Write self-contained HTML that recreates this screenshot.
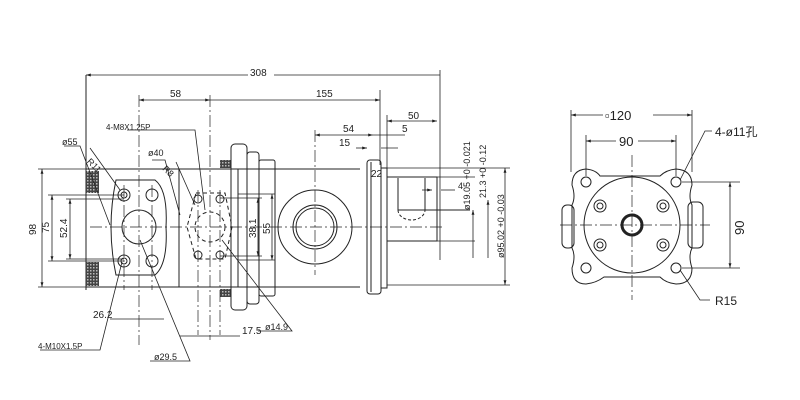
<!DOCTYPE html>
<html><head><meta charset="utf-8"><style>body{margin:0;background:#fff}svg{display:block}text{font-family:"Liberation Sans","Noto Sans CJK SC",sans-serif;fill:#222}</style></head><body>
<svg width="800" height="400" viewBox="0 0 800 400" xmlns="http://www.w3.org/2000/svg">
<defs>
<pattern id="h" width="3" height="3" patternUnits="userSpaceOnUse"><rect width="3" height="3" fill="#444"/><rect width="1.5" height="1.5" fill="#bbb"/></pattern>
<marker id="a" viewBox="0 0 10 10" refX="10" refY="5" markerWidth="6" markerHeight="6" orient="auto-start-reverse"><path d="M0,2L10,5L0,8z" fill="#222"/></marker>
</defs>
<g stroke="#222" stroke-width="1" fill="none">
<!-- left body -->
<line x1="86" y1="169" x2="360" y2="169"/><line x1="86" y1="287" x2="360" y2="287"/>
<line x1="86" y1="75" x2="86" y2="290"/>
<rect x="86" y="171" width="13" height="22" fill="url(#h)" stroke="none"/>
<rect x="86" y="262" width="13" height="24" fill="url(#h)" stroke="none"/>
<path d="M116,180 L155,180 Q168,190 166,227 Q168,264 155,275 L116,275 Q106,227 116,180Z"/>
<circle cx="139" cy="227" r="17"/>
<circle cx="124" cy="195" r="6"/><circle cx="124" cy="195" r="3"/><circle cx="152" cy="195" r="6"/>
<circle cx="124" cy="261" r="6"/><circle cx="124" cy="261" r="3"/><circle cx="152" cy="261" r="6"/>
<line x1="179" y1="169" x2="179" y2="287"/><line x1="238" y1="169" x2="238" y2="287"/>
<path d="M196,193 L225,193 L232,227 L225,259 L196,259 L187,227Z" stroke-dasharray="4,3"/>
<circle cx="210" cy="227" r="15" stroke-dasharray="4,3"/>
<circle cx="198" cy="199" r="4"/><circle cx="220" cy="199" r="4"/><circle cx="198" cy="255" r="4"/><circle cx="220" cy="255" r="4"/>
<rect x="220" y="160" width="11" height="8" fill="url(#h)" stroke="none"/>
<rect x="220" y="289" width="11" height="8" fill="url(#h)" stroke="none"/>
<rect x="231" y="144" width="16" height="166" rx="4"/>
<rect x="247" y="152" width="12" height="152" rx="3"/>
<rect x="259" y="160" width="16" height="136" rx="2"/>
<circle cx="315" cy="227" r="37"/><circle cx="315" cy="227" r="22"/><circle cx="315" cy="227" r="19"/>
<rect x="367" y="160" width="14" height="134" rx="3"/><line x1="371" y1="162" x2="371" y2="292"/>
<rect x="381" y="168" width="6" height="120"/>
<rect x="387" y="177" width="50" height="64"/>
<line x1="398" y1="178" x2="398" y2="210"/><line x1="425" y1="178" x2="425" y2="210"/>
<path d="M398,210 A13.5,10 0 0 0 425,210" stroke-dasharray="3,2"/>
<line x1="398" y1="210" x2="470" y2="210"/>
<!-- center lines -->
<g stroke-dasharray="12,3,2,3" stroke-width="0.7">
<line x1="90" y1="227" x2="445" y2="227"/><line x1="139" y1="95" x2="139" y2="345"/>
<line x1="210" y1="95" x2="210" y2="340"/><line x1="315" y1="130" x2="315" y2="275"/>
<line x1="124" y1="185" x2="124" y2="290"/><line x1="152" y1="185" x2="152" y2="290"/>
<line x1="198" y1="190" x2="198" y2="335"/><line x1="220" y1="190" x2="220" y2="335"/>
<line x1="560" y1="225" x2="710" y2="225"/><line x1="632" y1="155" x2="632" y2="300"/>
</g>
<!-- dimensions -->
<g stroke-width="0.8">
<line x1="86" y1="75" x2="440" y2="75" marker-start="url(#a)"/><line x1="440" y1="70" x2="440" y2="260"/>
<line x1="139" y1="100" x2="210" y2="100" marker-start="url(#a)" marker-end="url(#a)"/>
<line x1="210" y1="100" x2="380" y2="100" marker-end="url(#a)"/><line x1="380" y1="90" x2="380" y2="165"/>
<line x1="387" y1="121" x2="437" y2="121" marker-start="url(#a)" marker-end="url(#a)"/><line x1="387" y1="115" x2="387" y2="175"/>
<line x1="315" y1="135" x2="373" y2="135" marker-start="url(#a)" marker-end="url(#a)"/><line x1="373" y1="135" x2="405" y2="135"/>
<line x1="356" y1="148" x2="367" y2="148" marker-end="url(#a)"/><line x1="381" y1="148" x2="398" y2="148"/>
<line x1="38" y1="169" x2="86" y2="169"/><line x1="38" y1="287" x2="86" y2="287"/>
<line x1="42" y1="169" x2="42" y2="287" marker-start="url(#a)" marker-end="url(#a)"/>
<line x1="48" y1="195" x2="124" y2="195"/><line x1="48" y1="261" x2="124" y2="261"/>
<line x1="52" y1="195" x2="52" y2="261" marker-start="url(#a)" marker-end="url(#a)"/>
<line x1="66" y1="199" x2="124" y2="199"/><line x1="66" y1="259" x2="124" y2="259"/>
<line x1="70" y1="199" x2="70" y2="259" marker-start="url(#a)" marker-end="url(#a)"/>
<line x1="220" y1="198" x2="262" y2="198"/><line x1="220" y1="256" x2="262" y2="256"/>
<line x1="258" y1="198" x2="258" y2="256" marker-start="url(#a)" marker-end="url(#a)"/>
<line x1="238" y1="194" x2="275" y2="194"/><line x1="238" y1="260" x2="275" y2="260"/>
<line x1="272" y1="194" x2="272" y2="260" marker-start="url(#a)" marker-end="url(#a)"/>
<line x1="110" y1="319" x2="164" y2="319"/>
<line x1="180" y1="336" x2="240" y2="336"/>
<line x1="437" y1="177" x2="475" y2="177"/><line x1="437" y1="241" x2="475" y2="241"/>
<line x1="473" y1="210" x2="473" y2="258" marker-start="url(#a)"/>
<line x1="488" y1="200" x2="488" y2="258" marker-start="url(#a)"/>
<line x1="387" y1="168" x2="510" y2="168"/><line x1="387" y1="285" x2="510" y2="285"/>
<line x1="505" y1="168" x2="505" y2="285" marker-start="url(#a)" marker-end="url(#a)"/>
<line x1="422" y1="190" x2="432" y2="190" marker-end="url(#a)"/><line x1="441" y1="190" x2="455" y2="190"/>
<!-- leaders -->
<polyline points="64,146 80,146 110,225"/><polyline points="90,148 120,190"/>
<polyline points="127,130 195,130 205,210"/><polyline points="152,160 165,160 180,215"/>
<polyline points="176,162 195,205"/>
<polyline points="258,331 292,331 222,240"/>
<polyline points="40,350 100,350 122,262"/>
<polyline points="150,361 190,361 140,240"/>
</g>
<!-- right view -->
<path d="M586,169 Q596,170 600,176 L616,176 L660,176 Q666,170 676,169 Q692,170 692,185 Q688,197 692,205 L692,248 Q688,256 692,268 Q692,284 676,284 Q666,283 660,277 L604,277 Q596,283 586,284 Q572,284 572,268 Q576,256 572,248 L572,205 Q576,197 572,185 Q572,170 586,169Z"/>
<circle cx="632" cy="225" r="48"/>
<g><circle cx="586" cy="182" r="5"/><circle cx="676" cy="182" r="5"/><circle cx="586" cy="268" r="5"/><circle cx="676" cy="268" r="5"/>
<circle cx="600" cy="206" r="6"/><circle cx="600" cy="206" r="3"/><circle cx="663" cy="206" r="6"/><circle cx="663" cy="206" r="3"/>
<circle cx="600" cy="245" r="6"/><circle cx="600" cy="245" r="3"/><circle cx="663" cy="245" r="6"/><circle cx="663" cy="245" r="3"/></g>
<circle cx="632" cy="225" r="10" stroke-width="3"/>
<rect x="562" y="205" width="12" height="43" rx="5"/><rect x="688" y="202" width="15" height="46" rx="5"/>
<g stroke-width="0.8">
<line x1="571" y1="110" x2="571" y2="172"/><line x1="692" y1="110" x2="692" y2="172"/>
<line x1="571" y1="115" x2="692" y2="115" marker-start="url(#a)" marker-end="url(#a)"/>
<line x1="586" y1="135" x2="586" y2="176"/><line x1="676" y1="135" x2="676" y2="176"/>
<line x1="586" y1="141" x2="676" y2="141" marker-start="url(#a)" marker-end="url(#a)"/>
<line x1="682" y1="182" x2="740" y2="182"/><line x1="682" y1="268" x2="740" y2="268"/>
<line x1="730" y1="182" x2="730" y2="268" marker-start="url(#a)" marker-end="url(#a)"/>
<polyline points="712,131 705,131 680,180"/><polyline points="710,300 700,300 680,270"/>
</g>
</g>
<g font-size="10">
<rect x="248" y="67" width="26" height="12" fill="#fff"/><text x="250" y="76">308</text>
<text x="170" y="97">58</text><text x="316" y="97">155</text>
<text x="408" y="119">50</text><text x="343" y="132">54</text><text x="402" y="132">5</text>
<text x="339" y="146">15</text><text x="371" y="177">22</text><text x="458" y="189" font-size="9">4</text>
<text x="62" y="145" font-size="9">ø55</text><text x="148" y="156" font-size="9">ø40</text>
<text x="106" y="130" font-size="8">4-M8X1.25P</text>
<text x="88" y="166" font-size="9" transform="rotate(45 92 162)">R11</text>
<text x="163" y="173" font-size="9" transform="rotate(45 167 170)">R8</text>
<text x="93" y="318">26.2</text><text x="242" y="334">17.5</text>
<text x="265" y="330" font-size="9">ø14.9</text>
<text x="38" y="349" font-size="8">4-M10X1.5P</text>
<text x="154" y="360" font-size="9">ø29.5</text>
<text transform="translate(36,235) rotate(-90)">98</text>
<text transform="translate(49,233) rotate(-90)">75</text>
<text transform="translate(67,238) rotate(-90)">52.4</text>
<text transform="translate(256,238) rotate(-90)">38.1</text>
<text transform="translate(270,234) rotate(-90)">55</text>
<text transform="translate(470,210) rotate(-90)" font-size="9">ø19.05 +0 -0.021</text>
<text transform="translate(486,198) rotate(-90)" font-size="9">21.3 +0 -0.12</text>
<text transform="translate(504,258) rotate(-90)" font-size="9">ø95.02 +0 -0.03</text>
<rect x="603" y="108" width="50" height="14" fill="#fff"/><text x="605" y="120" font-size="13">▫120</text>
<rect x="616" y="134" width="22" height="14" fill="#fff"/><text x="619" y="146" font-size="13">90</text>
<text x="715" y="136" font-size="12">4-ø11孔</text>
<text x="715" y="305" font-size="12">R15</text>
<text transform="translate(744,235) rotate(-90)" font-size="13">90</text>
</g>
</svg>
</body></html>
